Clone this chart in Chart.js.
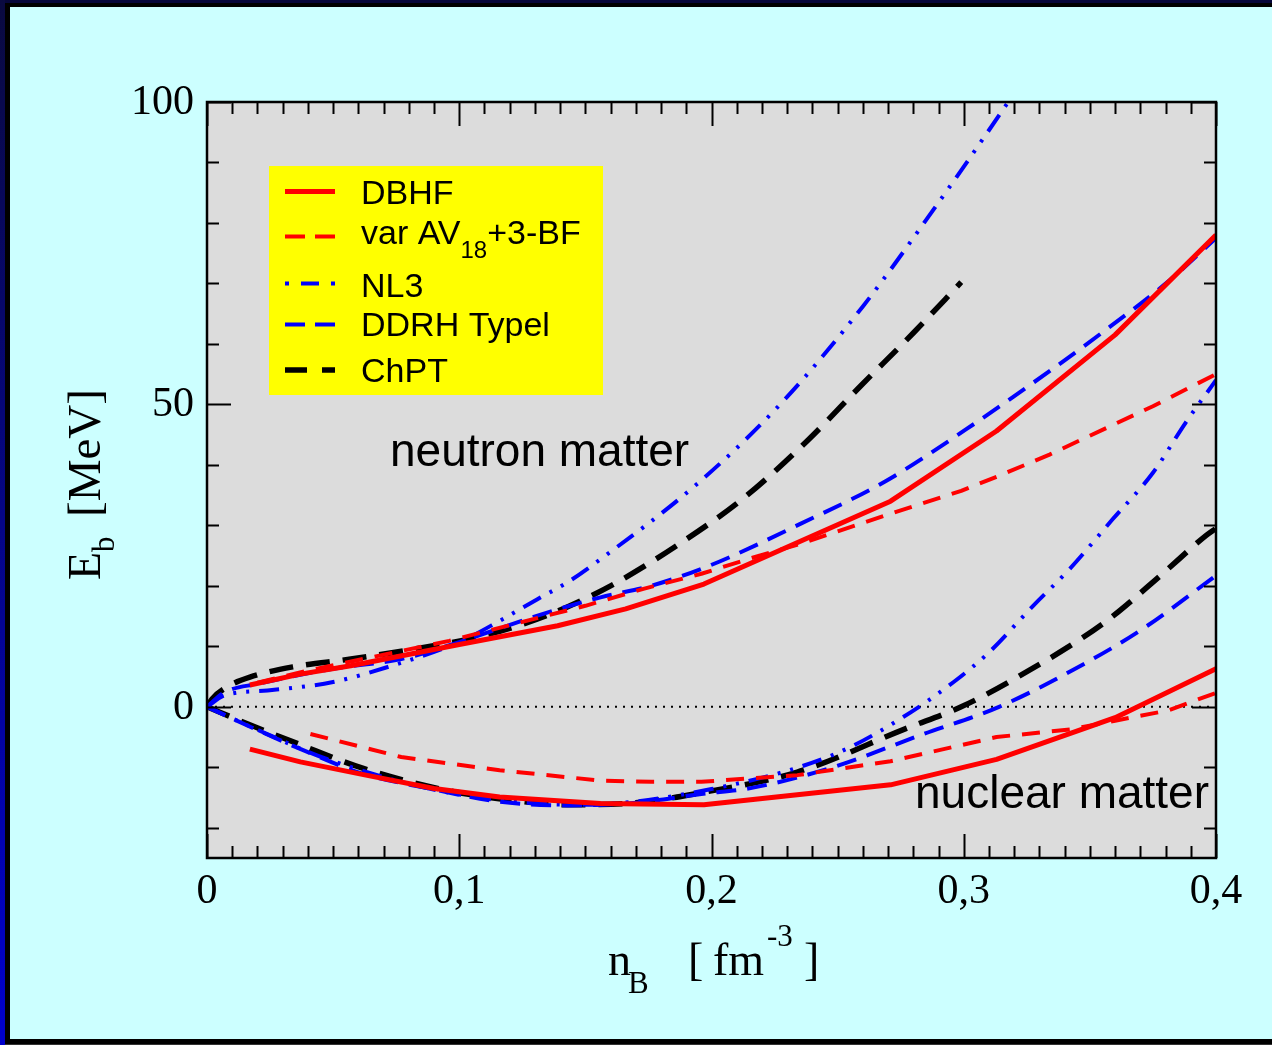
<!DOCTYPE html>
<html>
<head>
<meta charset="utf-8">
<script src="https://cdn.jsdelivr.net/npm/chart.js@4"></script>
<style>
html,body{margin:0;padding:0;background:#ccffff;overflow:hidden}
canvas{display:block}
</style>
</head>
<body>
<canvas id="c" width="1272" height="1045"></canvas>
<script>
// Binding energy per nucleon E_b [MeV] versus baryon density n_B [fm^-3]
// Upper branch: neutron matter, lower branch: symmetric nuclear matter.

const seriesLabels = ['DBHF', 'var AV18+3-BF', 'NL3', 'DDRH Typel', 'ChPT'];

// DBHF
const dbhfNeutN = [0.017, 0.037, 0.057, 0.100, 0.139, 0.166, 0.197, 0.271, 0.313, 0.360, 0.400];
const dbhfNeutE = [3.6, 5.4, 6.8, 10.3, 13.4, 16.2, 20.3, 34.0, 45.6, 61.5, 78.0];
const dbhfNuclN = [0.017, 0.037, 0.063, 0.090, 0.116, 0.156, 0.197, 0.271, 0.313, 0.360, 0.400];
const dbhfNuclE = [-7.0, -9.1, -11.3, -13.5, -14.9, -16.0, -16.2, -12.9, -8.7, -1.8, 6.3];

// variational AV18 + 3-body forces
const avNeutN = [0.020, 0.040, 0.071, 0.096, 0.120, 0.150, 0.173, 0.196, 0.219, 0.235, 0.270, 0.299, 0.314, 0.334, 0.375, 0.400];
const avNeutE = [4.0, 6.0, 8.7, 10.9, 13.5, 16.7, 19.5, 22.0, 25.0, 26.9, 31.8, 35.7, 38.2, 41.7, 49.7, 55.0];
const avNuclN = [0.041, 0.077, 0.116, 0.156, 0.176, 0.196, 0.234, 0.271, 0.313, 0.343, 0.360, 0.381, 0.400];
const avNuclE = [-4.5, -8.3, -10.5, -12.2, -12.4, -12.4, -11.3, -9.0, -5.0, -3.7, -2.3, -0.6, 2.3];

// NL3
const nl3NeutN = [0, 0.007, 0.024, 0.050, 0.071, 0.100, 0.116, 0.131, 0.143, 0.156, 0.195, 0.229, 0.260, 0.288, 0.316, 0.320];
const nl3NeutE = [0, 1.9, 2.7, 4.1, 6.5, 10.7, 14.2, 17.8, 20.6, 24.4, 37.1, 50.8, 66.2, 82.2, 99.0, 101.5];
const nl3NuclN = [0, 0.020, 0.050, 0.100, 0.148, 0.200, 0.249, 0.276, 0.296, 0.310, 0.3275, 0.342, 0.359, 0.375, 0.388, 0.400];
const nl3NuclE = [0, -3.8, -9.0, -14.5, -16.2, -13.6, -7.8, -1.7, 4.1, 9.0, 16.7, 22.8, 31.0, 38.7, 47.0, 54.0];

// DDRH (Typel)
const ddNeutN = [0, 0.007, 0.020, 0.050, 0.077, 0.100, 0.129, 0.156, 0.176, 0.199, 0.235, 0.269, 0.301, 0.334, 0.354, 0.381, 0.400];
const ddNeutE = [0, 2.4, 3.8, 6.3, 7.9, 10.7, 14.8, 18.1, 20.0, 23.3, 30.2, 37.3, 45.9, 55.5, 61.6, 70.3, 77.5];
const ddNuclN = [0, 0.016, 0.040, 0.062, 0.088, 0.116, 0.143, 0.169, 0.196, 0.216, 0.248, 0.284, 0.314, 0.349, 0.371, 0.400];
const ddNuclE = [0, -3.1, -7.5, -11.1, -13.5, -15.7, -16.3, -15.9, -14.4, -13.4, -10.0, -4.5, 0.0, 7.4, 12.9, 21.7];

// ChPT
const chNeutN = [0, 0.002, 0.008, 0.017, 0.034, 0.057, 0.083, 0.110, 0.136, 0.160, 0.186, 0.213, 0.238, 0.259, 0.280, 0.299];
const chNeutE = [0, 1.3, 3.3, 4.9, 6.6, 7.9, 9.6, 11.8, 15.3, 20.0, 26.6, 34.6, 44.0, 53.0, 61.8, 70.2];
const chNuclN = [0, 0.016, 0.036, 0.062, 0.095, 0.122, 0.143, 0.169, 0.196, 0.234, 0.277, 0.299, 0.320, 0.356, 0.378, 0.396, 0.400];
const chNuclE = [0, -2.8, -6.1, -10.2, -13.8, -15.5, -16.2, -15.9, -14.2, -10.8, -3.6, 0.0, 4.6, 14.0, 21.7, 28.3, 29.5];

// axes
const xMin = 0, xMax = 0.4, yMin = -25, yMax = 100;
const xTickValues = [0, 0.1, 0.2, 0.3, 0.4];
const xTickLabels = ['0', '0,1', '0,2', '0,3', '0,4'];
const yTickValues = [0, 50, 100];
const yTickLabels = ['0', '50', '100'];

const RED = '#ff0000', BLUE = '#0000ff', BLACK = '#000000';
const styles = [
  {color: RED,   width: 5,   dash: []},
  {color: RED,   width: 4,   dash: [18, 12]},
  {color: BLUE,  width: 4,   dash: [20, 10, 3, 10, 3, 10]},
  {color: BLUE,  width: 4,   dash: [20, 11]},
  {color: BLACK, width: 5.5, dash: [24, 13]}
];
const legendDash = [[], [20, 10], [4, 12, 18, 12, 4, 20], [20, 10], [22, 15]];

const zip = (xs, ys) => xs.map((x, i) => ({x: x, y: ys[i]}));

const curves = [
  [0, dbhfNeutN, dbhfNeutE], [0, dbhfNuclN, dbhfNuclE],
  [1, avNeutN, avNeutE], [1, avNuclN, avNuclE],
  [2, nl3NeutN, nl3NeutE], [2, nl3NuclN, nl3NuclE],
  [3, ddNeutN, ddNeutE], [3, ddNuclN, ddNuclE],
  [4, chNeutN, chNeutE], [4, chNuclN, chNuclE]
];

const datasets = curves.map(([s, xs, ys]) => ({
  label: seriesLabels[s],
  data: zip(xs, ys),
  showLine: true,
  fill: false,
  pointRadius: 0,
  borderColor: styles[s].color,
  borderWidth: styles[s].width,
  borderDash: styles[s].dash,
  borderCapStyle: 'butt',
  borderJoinStyle: 'round',
  tension: s < 2 ? 0 : 0.3,
  cubicInterpolationMode: s < 2 ? 'default' : 'monotone'
}));

// dotted zero line
datasets.push({
  label: 'zero',
  data: zip([xMin, xMax], [0, 0]),
  showLine: true, fill: false, pointRadius: 0,
  borderColor: '#000', borderWidth: 2, borderDash: [2, 6], borderCapStyle: 'butt'
});

const W = 1272, H = 1045;
const SERIF = '"Liberation Serif", "Times New Roman", serif';
const SANS = '"Liberation Sans", Arial, sans-serif';

const framePlugin = {
  id: 'frame',
  beforeDraw(chart) {
    const ctx = chart.ctx, a = chart.chartArea;
    ctx.save();
    // outer border
    ctx.fillStyle = '#06063a';
    ctx.fillRect(0, 0, W, H);
    const g = ctx.createLinearGradient(0, 0, 0, H);
    g.addColorStop(0, '#0a0a40');
    g.addColorStop(1, '#0000cc');
    ctx.fillStyle = g;
    ctx.fillRect(0, 0, 5, H);
    ctx.fillStyle = '#000';
    ctx.fillRect(5, 3, W - 5, H - 4);
    ctx.fillStyle = '#ccffff';
    ctx.fillRect(10, 7, W - 10, 1039 - 7);
    ctx.fillStyle = '#333';
    ctx.fillRect(5, H - 1, W - 5, 1);
    // plot area
    ctx.fillStyle = '#dcdcdc';
    ctx.fillRect(a.left, a.top, a.right - a.left, a.bottom - a.top);
    ctx.restore();
  },
  afterDatasetsDraw(chart) {
    const ctx = chart.ctx, a = chart.chartArea;
    const xs = chart.scales.x, ys = chart.scales.y;
    ctx.save();
    ctx.strokeStyle = '#000';
    ctx.lineWidth = 2;
    // ticks on x (bottom and top), inward
    for (let i = 0; i <= 40; i++) {
      const v = i / 100;
      const px = Math.round(xs.getPixelForValue(v)) + 0.5;
      const len = (i % 10 === 0) ? 24 : 12;
      ctx.beginPath();
      ctx.moveTo(px, a.bottom); ctx.lineTo(px, a.bottom - len);
      ctx.moveTo(px, a.top); ctx.lineTo(px, a.top + len);
      ctx.stroke();
    }
    // ticks on y (left and right), inward
    for (let v = -20; v <= 100; v += 10) {
      const py = Math.round(ys.getPixelForValue(v)) + 0.5;
      const len = (v % 50 === 0) ? 24 : 12;
      ctx.beginPath();
      ctx.moveTo(a.left, py); ctx.lineTo(a.left + len, py);
      ctx.moveTo(a.right, py); ctx.lineTo(a.right - len, py);
      ctx.stroke();
    }
    // frame
    ctx.lineWidth = 2.5;
    ctx.strokeRect(a.left, a.top, a.right - a.left, a.bottom - a.top);

    // tick labels
    ctx.fillStyle = '#000';
    ctx.font = '42px ' + SERIF;
    ctx.textAlign = 'center';
    ctx.textBaseline = 'alphabetic';
    xTickValues.forEach((v, i) => {
      ctx.fillText(xTickLabels[i], xs.getPixelForValue(v), 903);
    });
    ctx.textAlign = 'right';
    ctx.textBaseline = 'middle';
    yTickValues.forEach((v, i) => {
      ctx.fillText(yTickLabels[i], 194, ys.getPixelForValue(v) + 1);
    });

    // x axis title: n_B [ fm^-3 ]
    ctx.textAlign = 'left';
    ctx.textBaseline = 'alphabetic';
    ctx.font = '46px ' + SERIF;
    ctx.fillText('n', 608, 975);
    ctx.fillText('[', 688, 975);
    ctx.fillText('fm', 713, 975);
    ctx.fillText(']', 804, 975);
    ctx.font = '31px ' + SERIF;
    ctx.fillText('B', 628, 993);
    ctx.fillText('-3', 767, 946);

    // y axis title: E_b [MeV]
    ctx.save();
    ctx.translate(100, 580);
    ctx.rotate(-Math.PI / 2);
    ctx.font = '46px ' + SERIF;
    ctx.fillText('E', 0, 0);
    const wE = ctx.measureText('E').width;
    ctx.font = '31px ' + SERIF;
    ctx.fillText('b', wE, 14);
    ctx.font = '47px ' + SERIF;
    ctx.fillText('[MeV]', 63, 0);
    ctx.restore();

    // region labels
    ctx.font = '46px ' + SANS;
    ctx.fillText('neutron matter', 390, 466);
    ctx.fillText('nuclear matter', 915, 808);

    // legend
    ctx.fillStyle = '#ffff00';
    ctx.fillRect(269, 166, 334, 229);
    const rows = [
      {ly: 191.5, ty: 204},
      {ly: 236.5, ty: 244},
      {ly: 283.5, ty: 297},
      {ly: 324.5, ty: 336},
      {ly: 370, ty: 382}
    ];
    rows.forEach((r, i) => {
      const st = styles[i];
      ctx.strokeStyle = st.color;
      ctx.lineWidth = st.width;
      ctx.lineCap = 'butt';
      ctx.setLineDash(legendDash[i]);
      ctx.beginPath();
      ctx.moveTo(285, r.ly); ctx.lineTo(335, r.ly);
      ctx.stroke();
      ctx.setLineDash([]);
      ctx.fillStyle = '#000';
      ctx.font = '34px ' + SANS;
      if (i === 1) {
        ctx.fillText('var AV', 361, r.ty);
        let x = 361 + ctx.measureText('var AV').width;
        ctx.font = '24px ' + SANS;
        ctx.fillText('18', x, r.ty + 14);
        x += ctx.measureText('18').width;
        ctx.font = '34px ' + SANS;
        ctx.fillText('+3-BF', x, r.ty);
      } else {
        ctx.fillText(seriesLabels[i], 361, r.ty);
      }
    });
    ctx.restore();
  }
};

new Chart(document.getElementById('c'), {
  type: 'scatter',
  data: {datasets: datasets},
  options: {
    responsive: false,
    animation: false,
    devicePixelRatio: 1,
    layout: {padding: {left: 207, right: W - 1216, top: 102, bottom: H - 858}},
    plugins: {legend: {display: false}, tooltip: {enabled: false}},
    scales: {
      x: {type: 'linear', min: xMin, max: xMax, display: false},
      y: {type: 'linear', min: yMin, max: yMax, display: false}
    }
  },
  plugins: [framePlugin]
});
</script>
</body>
</html>
